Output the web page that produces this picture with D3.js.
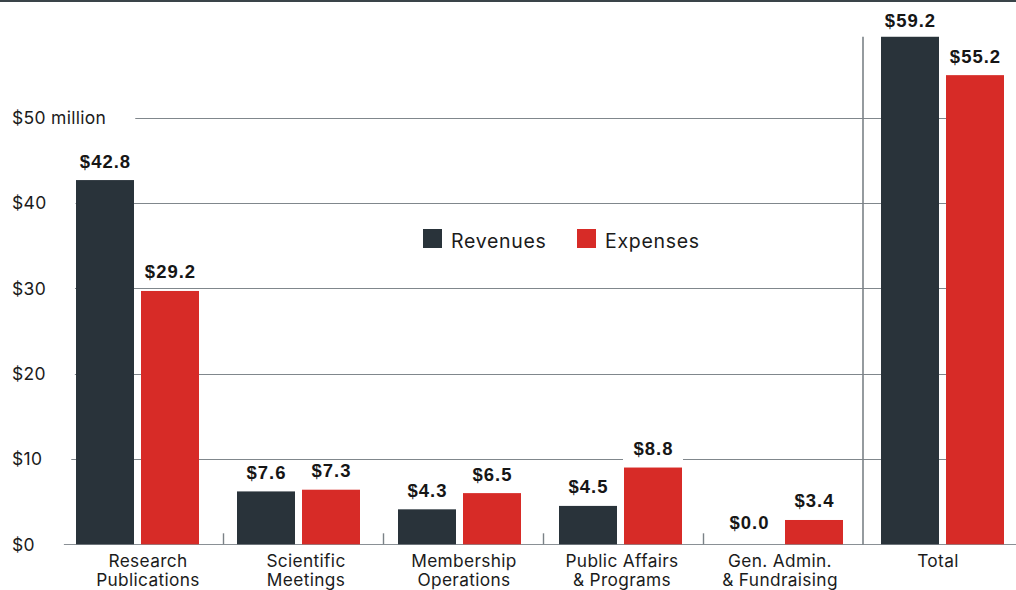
<!DOCTYPE html>
<html>
<head>
<meta charset="utf-8">
<script src="https://cdn.jsdelivr.net/npm/d3@7"></script>
<style>
  html, body { margin: 0; padding: 0; background: #fff; }
  svg { display: block; }
</style>
</head>
<body>
<svg id="chart" width="1016" height="590"></svg>
<script>
// ---- data ----
const categories = [
  ["Research", "Publications"],
  ["Scientific", "Meetings"],
  ["Membership", "Operations"],
  ["Public Affairs", "& Programs"],
  ["Gen. Admin.", "& Fundraising"],
  ["Total"]
];
const series = ["Revenues", "Expenses"];
// bar heights as drawn in the picture ($ million)
const revenues = [42.7, 6.2, 4.1, 4.5, 0.0, 59.5];
const expenses = [29.7, 6.4, 6.0, 9.0, 2.85, 55.0];
// value labels as printed
const revenueLabels = ["$42.8", "$7.6", "$4.3", "$4.5", "$0.0", "$59.2"];
const expenseLabels = ["$29.2", "$7.3", "$6.5", "$8.8", "$3.4", "$55.2"];
const yTicks = [0, 10, 20, 30, 40, 50];
const yTickLabels = ["$0", "$10", "$20", "$30", "$40", "$50 million"];

const colors = { Revenues: "#29333a", Expenses: "#d72b27" };

// ---- setup ----
const svg = d3.select("#chart");
const W = 1016;
const keys = categories.map((c, i) => "c" + i);

const y = d3.scaleLinear().domain([0, 50]).range([544.3, 117.8]);
const xBar = d3.scaleBand().domain(keys).range([57, 1023]);
const xSub = d3.scaleBand().domain(series).range([19, 142]).paddingInner(7 / 65);
const xLab = d3.scaleBand().domain(keys).range([69, 1017]);
const xTick = d3.scaleBand().domain(keys).range([63, 1023]);

const labelFont = "Inter, 'Noto Sans', sans-serif";
const valueFont = "'Liberation Sans', Arial, sans-serif";

// top border
svg.append("rect").attr("x", 0).attr("y", 0).attr("width", W).attr("height", 2).attr("fill", "#3a4449");

// y-axis labels + gridlines
const yg = svg.append("g");
yTicks.forEach((t, i) => {
  const yy = Math.round(y(t)) + 0.5;
  const txt = yg.append("text")
    .attr("x", 12).attr("y", y(t)).attr("dy", "0.36em")
    .attr("font-family", labelFont).attr("font-size", 17.5)
    .attr("letter-spacing", 0.3)
    .attr("fill", "#1b1b1b").text(yTickLabels[i]);
  const end = 12 + txt.node().getComputedTextLength();
  const x0 = Math.max(63, end + 29);
  const x1 = t === 0 ? W : 1003;
  yg.insert("line", "text")
    .attr("x1", x0).attr("x2", x1).attr("y1", yy).attr("y2", yy)
    .attr("stroke", t === 0 ? "#8a9095" : "#80878c").attr("stroke-width", 1);
});

// bars
const rows = keys.map((k, i) => ({
  key: k, i,
  vals: [
    { s: "Revenues", v: revenues[i], label: revenueLabels[i] },
    { s: "Expenses", v: expenses[i], label: expenseLabels[i] }
  ]
}));

const bg = svg.append("g");
const groups = bg.selectAll("g.cat").data(rows).join("g")
  .attr("class", "cat")
  .attr("transform", d => `translate(${xBar(d.key)},0)`);

groups.selectAll("rect.bar").data(d => d.vals).join("rect")
  .attr("class", "bar")
  .attr("x", d => xSub(d.s))
  .attr("width", xSub.bandwidth())
  .attr("y", d => y(d.v))
  .attr("height", d => y(0) - y(d.v))
  .attr("fill", d => colors[d.s]);

// value labels with white backing
groups.each(function (d) {
  const g = d3.select(this);
  d.vals.forEach(v => {
    const cx = xSub(v.s) + xSub.bandwidth() / 2;
    let base = y(v.v) - 12.5;
    if (v.v === 0) base = y(0) - 15;
    base = Math.max(base, 26.7);
    const bgRect = g.append("rect").attr("fill", "#fff");
    const t = g.append("text")
      .attr("x", cx + 0.5).attr("y", base)
      .attr("text-anchor", "middle")
      .attr("font-family", valueFont).attr("font-weight", "bold")
      .attr("font-size", 18.5).attr("letter-spacing", 1)
      .attr("fill", "#161616").text(v.label);
    const w = t.node().getComputedTextLength();
    bgRect.attr("x", cx - w / 2 - 10).attr("width", w + 20)
      .attr("y", base - 17).attr("height", 22);
  });
});

// category separators (small ticks) and total divider
keys.forEach((k, i) => {
  if (i === 0) return;
  const xx = Math.round(xTick(k)) + 0.5;
  if (i === keys.length - 1) {
    svg.append("line").attr("x1", xx - 0.5).attr("x2", xx - 0.5)
      .attr("y1", y(revenues[i])).attr("y2", y(0) + 0.5)
      .attr("stroke", "#7b8287").attr("stroke-width", 1.6);
  } else {
    svg.append("line").attr("x1", xx).attr("x2", xx)
      .attr("y1", y(0) - 11).attr("y2", y(0))
      .attr("stroke", "#7b8287").attr("stroke-width", 1.4);
  }
});

// category labels
const cl = svg.append("g");
categories.forEach((lines, i) => {
  const t = cl.append("text")
    .attr("x", xLab(keys[i]) + xLab.bandwidth() / 2)
    .attr("y", 567)
    .attr("text-anchor", "middle")
    .attr("font-family", labelFont).attr("font-size", 17.3)
    .attr("letter-spacing", 0.35)
    .attr("fill", "#1b1b1b");
  lines.forEach((ln, j) => {
    t.append("tspan")
      .attr("x", xLab(keys[i]) + xLab.bandwidth() / 2)
      .attr("dy", j === 0 ? 0 : 18.5)
      .text(ln);
  });
});

// legend
const legendX = d3.scaleOrdinal().domain(series).range([423, 577]);
const lg = svg.append("g");
series.forEach(s => {
  lg.append("rect").attr("x", legendX(s)).attr("y", 229)
    .attr("width", 19).attr("height", 19).attr("fill", colors[s]);
  lg.append("text").attr("x", legendX(s) + 28).attr("y", 248)
    .attr("font-family", labelFont).attr("font-size", 19.5)
    .attr("letter-spacing", 0.7)
    .attr("fill", "#1b1b1b").text(s);
});
</script>
</body>
</html>
